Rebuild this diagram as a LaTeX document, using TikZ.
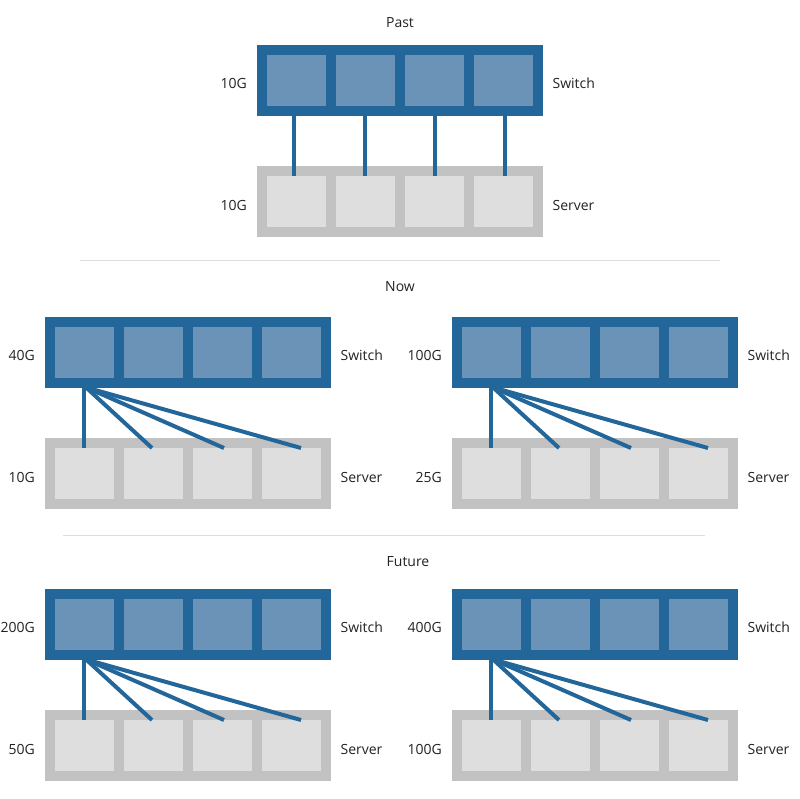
\documentclass[tikz,border=0pt]{standalone}
\usepackage{fontspec}
\setmainfont{Open Sans}
\usetikzlibrary{calc}
\definecolor{swout}{HTML}{236699}
\definecolor{swin}{HTML}{6B93B8}
\definecolor{svout}{HTML}{C2C2C2}
\definecolor{svin}{HTML}{DEDEDE}
\definecolor{divc}{HTML}{DDDDDD}
\definecolor{txt}{HTML}{222222}
\tikzset{
  swbox/.style={fill=swout, draw=none, minimum width=286pt, minimum height=71pt, anchor=north west, inner sep=0pt},
  svbox/.style={fill=svout, draw=none, minimum width=286pt, minimum height=71pt, anchor=north west, inner sep=0pt},
  swsq/.style={fill=swin, draw=none, minimum width=59pt, minimum height=51pt, anchor=north west, inner sep=0pt},
  svsq/.style={fill=svin, draw=none, minimum width=59pt, minimum height=51pt, anchor=north west, inner sep=0pt},
  link/.style={draw=swout, line width=4pt},
  lbl/.style={text=txt, font=\fontsize{14}{17}\selectfont, inner sep=0pt},
  speed/.style={lbl, anchor=east},
  kind/.style={lbl, anchor=west},
  title/.style={lbl},
  divider/.style={draw=divc, line width=1pt}
}
% #1 prefix, #2 x, #3 y switch top, #4 y server top, #5 switch speed, #6 server speed
\newcommand\netunit[6]{%
  \node[swbox] (#1sw) at (#2,#3) {};
  \node[svbox] (#1sv) at (#2,#4) {};
  \foreach \i in {0,1,2,3}{
    \node[swsq] (#1s\i) at ($(#1sw.north west)+(10+69*\i,10)$) {};
    \node[svsq] (#1v\i) at ($(#1sv.north west)+(10+69*\i,10)$) {};
  }
  \node[speed] (#1swl) at ($(#1sw.west)+(-10,3)$) {#5};
  \node[speed] (#1svl) at ($(#1sv.west)+(-10,3.5)$) {#6};
  \node[kind] (#1swk) at ($(#1sw.east)+(9,3)$) {Switch};
  \node[kind] (#1svk) at ($(#1sv.east)+(9,3.5)$) {Server};
}
\newcommand\fanlinks[1]{%
  \coordinate (#1src) at ($(#1sw.south west)+(39,0)$);
  \coordinate (#1srcb) at ($(#1sw.south west)+(41,-1)$);
  \coordinate (#1e0) at ($(#1v0.north west)+(29,0)$);
  \coordinate (#1e1) at ($(#1v1.north west)+(28,0)$);
  \coordinate (#1e2) at ($(#1v2.north west)+(31,0)$);
  \coordinate (#1e3) at ($(#1v3.north west)+(39,0)$);
  \draw[link] (#1src) -- (#1e0);
  \draw[link] (#1srcb) -- (#1e1);
  \draw[link] (#1srcb) -- (#1e2);
  \draw[link] (#1srcb) -- (#1e3);
}
\begin{document}
\begin{tikzpicture}[x=1pt,y=-1pt]
\useasboundingbox (0,0) rectangle (800,798);
% Past
\node[title] (tpast) at (400,23) {Past};
\netunit{a}{257}{45}{166}{10G}{10G}
\foreach \i/\dx in {0/-2.5,1/-1,2/0.5,3/1.5}{
  \draw[link] ($(as\i.north |- asw.south)+(\dx,0)$) -- ($(av\i.north)+(\dx,0)$);
}
\coordinate (d1a) at (80,260);
\coordinate (d1b) at (720,260);
\draw[divider] (d1a) -- (d1b);
% Now
\node[title] (tnow) at (400,287) {Now};
\netunit{b}{45}{317}{438}{40G}{10G}
\netunit{c}{452}{317}{438}{100G}{25G}
\fanlinks{b}
\fanlinks{c}
\coordinate (d2a) at (63,535);
\coordinate (d2b) at (705,535);
\draw[divider] (d2a) -- (d2b);
% Future
\node[title] (tfut) at (408,562) {Future};
\netunit{d}{45}{589}{710}{200G}{50G}
\netunit{e}{452}{589}{710}{400G}{100G}
\fanlinks{d}
\fanlinks{e}
\end{tikzpicture}
\end{document}
